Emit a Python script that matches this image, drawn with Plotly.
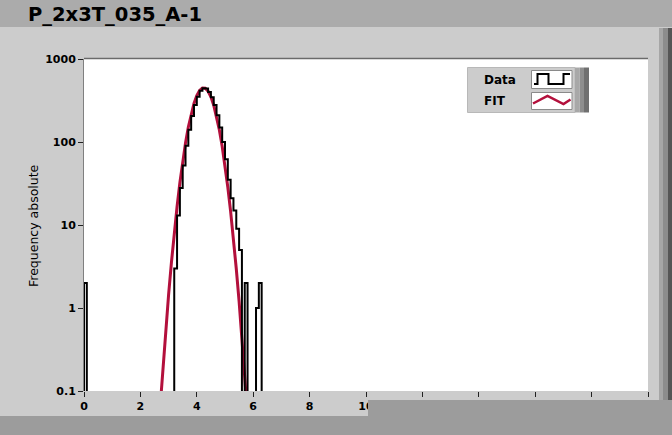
import plotly.graph_objects as go

# ---------------- data ----------------
title_text = "P_2x3T_035_A-1"
y_axis_title = "Frequency absolute"
legend_names = ["Data", "FIT"]

x_tick_values = [0, 2, 4, 6, 8, 10, 12, 14, 16, 18, 20]
x_tick_labels = ["0", "2", "4", "6", "8", "10", "12", "14", "16", "18", "20"]
y_tick_values = [0.1, 1, 10, 100, 1000]
y_tick_labels = ["0.1", "1", "10", "100", "1000"]

# histogram: bins of width 0.1 starting at 0.0 (counts)
bin_width = 0.1
bin_left_edges = [round(i * bin_width, 1) for i in range(64)]
counts = [2] + [0] * 31 + [
    3, 13, 28, 52, 90, 140, 205, 280, 350, 415,      # 3.2 - 4.1
    445, 440, 400, 345, 280, 210, 150, 100, 62, 35,  # 4.2 - 5.1
    21, 15, 9, 5, 0, 2, 0, 0, 0, 1,                  # 5.2 - 6.1
    2, 0,                                            # 6.2 - 6.3
]

# fitted curve
fit_x = [2.7, 2.8, 2.9, 3.0, 3.1, 3.2, 3.3, 3.4, 3.5, 3.6, 3.7, 3.8, 3.9, 4.0,
         4.1, 4.2, 4.3, 4.4, 4.5, 4.6, 4.7, 4.8, 4.9, 5.0, 5.1, 5.2, 5.3, 5.4,
         5.5, 5.6, 5.7, 5.8]
fit_y = [0.064, 0.197, 0.554, 1.45, 3.53, 7.95, 16.6, 32.4, 58.3, 97.6, 151.6,
         218.5, 292, 363, 418, 447, 444, 409, 350, 277, 204, 139.6, 88.6, 52.2,
         28.5, 14.5, 6.8, 2.97, 1.20, 0.453, 0.158, 0.051]

# ---------------- layout geometry (pixels) ----------------
W, H = 672, 435
L, R, T, B = 84, 648, 59, 391


def px(x):
    return (x - L) / (R - L)


def py(y):
    return (B - y) / (B - T)


TINY = 1e-3  # zero counts drawn below the axis floor
hist_x = [bin_left_edges[0] - bin_width] + bin_left_edges + [bin_left_edges[-1] + bin_width]
hist_y = [TINY] + [c if c > 0 else TINY for c in counts] + [TINY]

RED = "#B3103C"

fig = go.Figure()
fig.add_trace(go.Scatter(x=fit_x, y=fit_y, mode="lines",
                         line=dict(color=RED, width=3), name=legend_names[1],
                         showlegend=False, hoverinfo="skip"))
fig.add_trace(go.Scatter(x=hist_x, y=hist_y, mode="lines", line_shape="hv",
                         line=dict(color="black", width=2), name=legend_names[0],
                         showlegend=False, hoverinfo="skip"))

shapes = []


def rect(x0, y0, x1, y1, color, layer="below", line=None):
    d = dict(type="rect", xref="paper", yref="paper",
             x0=px(x0), x1=px(x1), y0=py(y1), y1=py(y0),
             fillcolor=color, layer=layer,
             line=line if line else dict(width=0))
    shapes.append(d)


# window decorations
rect(0, 0, 672, 27, "#ABABAB")
rect(659, 28, 663, 416, "#A6A6A6")
rect(663, 28, 668, 416, "#8C8C8C")
rect(668, 28, 672, 416, "#555555")
rect(0, 416, 672, 435, "#9C9C9C", layer="above")
rect(368, 400, 672, 435, "#9C9C9C", layer="above")

# top border of plot
shapes.append(dict(type="line", xref="paper", yref="paper",
                   x0=px(84), x1=px(648), y0=py(58.5), y1=py(58.5),
                   line=dict(color="#6A6A6A", width=1.5), layer="above"))

# legend box
rect(467.5, 67.5, 575, 112.5, "#CCCCCC", layer="above",
     line=dict(color="#B8B8B8", width=1))
rect(575, 67.5, 579.5, 112.5, "#A8A8A8", layer="above")
rect(579.5, 67.5, 584, 112.5, "#8E8E8E", layer="above")
rect(584, 67.5, 589, 112.5, "#707070", layer="above")
rect(531.5, 70.5, 572, 88.5, "white", layer="above",
     line=dict(color="#8A8A8A", width=1))
rect(531.5, 92.5, 572, 109.5, "white", layer="above",
     line=dict(color="#8A8A8A", width=1))


def path(points, color, width):
    d = "M " + " L ".join(f"{px(a):.5f},{py(b):.5f}" for a, b in points)
    shapes.append(dict(type="path", xref="paper", yref="paper", path=d,
                       line=dict(color=color, width=width), layer="above"))


path([(534, 84), (537.5, 84), (537.5, 74), (548.5, 74), (548.5, 84),
      (563.5, 84), (563.5, 74), (570, 74)], "black", 2)
path([(533, 103.5), (547.5, 96), (563.5, 104), (570.5, 99.5)], RED, 2.5)

annotations = [
    dict(text=f"<b>{title_text}</b>", xref="paper", yref="paper",
         x=px(26), y=py(14), xanchor="left", yanchor="middle", showarrow=False,
         font=dict(family="DejaVu Sans", size=19.5, color="black")),
    dict(text=y_axis_title, xref="paper", yref="paper", textangle=-90,
         x=px(33), y=py(226), xanchor="center", yanchor="middle", showarrow=False,
         font=dict(family="DejaVu Sans", size=12.5, color="black")),
    dict(text=f"<b>{legend_names[0]}</b>", xref="paper", yref="paper",
         x=px(482), y=py(79.5), xanchor="left", yanchor="middle", showarrow=False,
         font=dict(family="DejaVu Sans", size=12, color="black")),
    dict(text=f"<b>{legend_names[1]}</b>", xref="paper", yref="paper",
         x=px(482), y=py(101), xanchor="left", yanchor="middle", showarrow=False,
         font=dict(family="DejaVu Sans", size=12, color="black")),
]

fig.update_layout(
    width=W, height=H,
    margin=dict(l=L, r=W - R, t=T, b=H - B, pad=0),
    paper_bgcolor="#CCCCCC", plot_bgcolor="white",
    showlegend=False, hovermode=False,
    shapes=shapes, annotations=annotations,
    xaxis=dict(range=[0, 20], tickvals=x_tick_values, ticktext=x_tick_labels,
               showgrid=False, zeroline=False, showline=False,
               ticks="outside", ticklen=5, tickwidth=1, tickcolor="#222222",
               tickfont=dict(family="DejaVu Sans", size=11, color="black", weight="bold")),
    yaxis=dict(type="log", range=[-1, 3], tickvals=y_tick_values, ticktext=y_tick_labels,
               showgrid=False, zeroline=False, showline=True, linecolor="#808080",
               linewidth=1,
               ticks="outside", ticklen=5, tickwidth=1, tickcolor="#222222",
               tickfont=dict(family="DejaVu Sans", size=11, color="black", weight="bold")),
)

fig.write_html(
    "out.html",
    config={"displayModeBar": False, "staticPlot": True},
    post_script="document.body.style.margin='0';document.body.style.overflow='hidden';",
)
